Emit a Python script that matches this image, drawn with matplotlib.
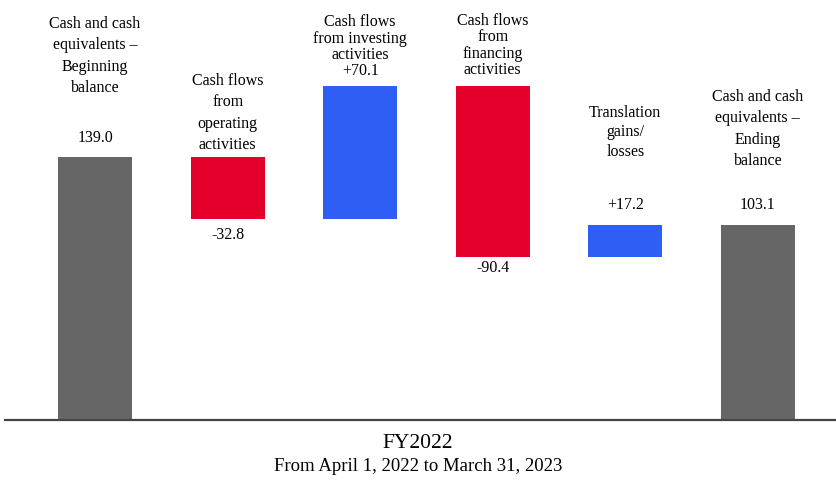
import matplotlib.pyplot as plt
import numpy as np

plt.rcParams['font.family'] = ['Liberation Serif', 'DejaVu Serif']

# Cash flow waterfall, FY2022 (billions of yen)
labels = [
    "Cash and cash\nequivalents –\nBeginning\nbalance",
    "Cash flows\nfrom\noperating\nactivities",
    "Cash flows\nfrom investing\nactivities",
    "Cash flows\nfrom\nfinancing\nactivities",
    "Translation\ngains/\nlosses",
    "Cash and cash\nequivalents –\nEnding\nbalance",
]
values = [139.0, -32.8, 70.1, -90.4, 17.2, 103.1]
kinds = ["total", "delta", "delta", "delta", "delta", "total"]
value_texts = ["139.0", "-32.8", "+70.1", "-90.4", "+17.2", "103.1"]

GRAY = "#666666"
RED = "#e4002b"
BLUE = "#2f5ef4"

fig = plt.figure(figsize=(8.36, 4.81), dpi=100)
ax = fig.add_axes([5 / 836, 60 / 481, 831 / 836, 421 / 481])

x = np.arange(len(values))
bottoms, heights, colors = [], [], []
running = 0.0
for v, k in zip(values, kinds):
    if k == "total":
        bottoms.append(0)
        heights.append(v)
        colors.append(GRAY)
        running = v
    else:
        if v >= 0:
            bottoms.append(running)
        else:
            bottoms.append(running + v)
        heights.append(abs(v))
        colors.append(BLUE if v >= 0 else RED)
        running += v

ax.bar(x, heights, bottom=bottoms, width=0.56, color=colors)

# label layout per bar: (value above/below, value offset px, label offset px, linespacing)
layout = [
    ("above", 20, 62, 1.45),
    ("below", 15, 5, 1.45),
    ("above", 16, 24, 1.05),
    ("below", 10, 9, 1.05),
    ("above", 21, 66, 1.3),
    ("above", 21, 57, 1.45),
]
for i in range(len(values)):
    top = bottoms[i] + heights[i]
    bot = bottoms[i]
    pos, voff, loff, ls = layout[i]
    if pos == "above":
        ax.annotate(value_texts[i], (x[i], top), xytext=(0, voff),
                    textcoords="offset pixels", ha="center", va="center", fontsize=11.5)
    else:
        ax.annotate(value_texts[i], (x[i], bot), xytext=(0, -voff),
                    textcoords="offset pixels", ha="center", va="center", fontsize=11.5)
    ax.annotate(labels[i], (x[i], top), xytext=(0, loff),
                textcoords="offset pixels", ha="center", va="bottom",
                fontsize=11.5, linespacing=ls, multialignment="center")

ax.set_xlim(-0.68, 5.59)
ax.set_ylim(0, 222.5)
for s in ["top", "right", "left"]:
    ax.spines[s].set_visible(False)
ax.spines["bottom"].set_color("#444444")
ax.spines["bottom"].set_linewidth(1.6)
ax.set_xticks([])
ax.set_yticks([])

fig.text(0.5, 1 - 444 / 481, "FY2022", ha="center", va="center", fontsize=15.5)
fig.text(0.5, 1 - 467 / 481, "From April 1, 2022 to March 31, 2023",
         ha="center", va="center", fontsize=13.5)

fig.savefig("out.png", dpi=100)
